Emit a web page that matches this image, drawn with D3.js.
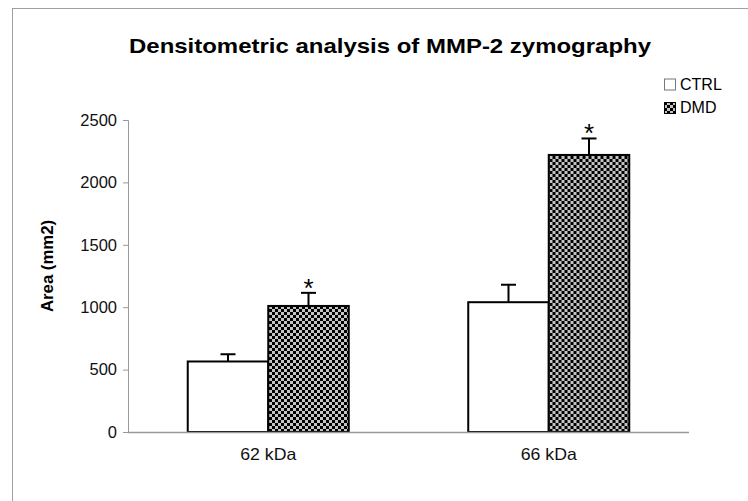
<!DOCTYPE html>
<html>
<head>
<meta charset="utf-8">
<script src="https://cdn.jsdelivr.net/npm/d3@7"></script>
<style>
  html, body { margin: 0; padding: 0; background: #fff; }
  svg { display: block; font-family: "Liberation Sans", Arial, sans-serif; }
</style>
</head>
<body>
<svg id="chart" width="748" height="501"></svg>
<script>
// Densitometric areas (mm2) with SD, per band size
const categories = ["62 kDa", "66 kDa"];
const seriesNames = ["CTRL", "DMD"];
const ctrlValues = [565, 1040];
const ctrlErrors = [58, 140];
const dmdValues = [1010, 2220];
const dmdErrors = [105, 132];
const significant = [true, true];   // asterisk above DMD bars
const yTicks = [0, 500, 1000, 1500, 2000, 2500];

const svg = d3.select("#chart");
const W = 748, H = 501;
const margin = { left: 128, right: 59, top: 120, bottom: 69 };
const plotW = W - margin.left - margin.right;
const plotH = H - margin.top - margin.bottom;

// checkerboard fill for the DMD series
const defs = svg.append("defs");
const pat = defs.append("pattern")
  .attr("id", "checker").attr("patternUnits", "userSpaceOnUse")
  .attr("width", 6).attr("height", 6);
pat.append("rect").attr("width", 6).attr("height", 6).attr("fill", "#c4c4c4");
pat.append("rect").attr("x", 0).attr("y", 0).attr("width", 3).attr("height", 3).attr("fill", "#000");
pat.append("rect").attr("x", 3).attr("y", 3).attr("width", 3).attr("height", 3).attr("fill", "#000");

// frame around the chart area
svg.append("rect").attr("x", 12.5).attr("y", 8.5).attr("width", 760).attr("height", 520)
  .attr("fill", "none").attr("stroke", "#a0a0a0").attr("stroke-width", 1);

svg.append("text").attr("x", 129).attr("y", 53)
  .attr("font-size", 20.5).attr("font-weight", "bold").attr("fill", "#000")
  .attr("textLength", 522).attr("lengthAdjust", "spacingAndGlyphs")
  .text("Densitometric analysis of MMP-2 zymography");

const g = svg.append("g").attr("transform", `translate(${margin.left},${margin.top})`);

const x0 = d3.scaleBand().domain(categories).range([0, plotW]).paddingInner(0).paddingOuter(0);
const x1 = d3.scaleBand().domain(seriesNames).range([0, x0.bandwidth()]).paddingInner(0).paddingOuter(0.742);
const y = d3.scaleLinear().domain([0, 2500]).range([plotH, 0]);

// axes
const yAxis = d3.axisLeft(y).tickValues(yTicks).tickSize(5).tickPadding(6).tickFormat(d3.format("d"));
const ya = g.append("g").call(yAxis);
ya.select(".domain").attr("stroke", "#999").attr("d", `M-5,0.5H0.5V${plotH}`);
ya.selectAll(".tick line").attr("stroke", "#999");
ya.selectAll(".tick text").attr("font-size", 16.5).attr("fill", "#111")
  .attr("font-family", "Liberation Sans, Arial, sans-serif");

const rows = categories.map((c, i) => ({
  cat: c,
  items: [
    { s: "CTRL", v: ctrlValues[i], e: ctrlErrors[i], star: false },
    { s: "DMD", v: dmdValues[i], e: dmdErrors[i], star: significant[i] }
  ]
}));

const groups = g.selectAll(".grp").data(rows).enter().append("g")
  .attr("transform", d => `translate(${x0(d.cat)},0)`);

const items = groups.selectAll(".bar").data(d => d.items).enter().append("g");

// error bars (upper whisker only)
items.append("line")
  .attr("x1", d => x1(d.s) + x1.bandwidth() / 2).attr("x2", d => x1(d.s) + x1.bandwidth() / 2)
  .attr("y1", d => y(d.v)).attr("y2", d => y(d.v + d.e))
  .attr("stroke", "#000").attr("stroke-width", 2);
items.append("line")
  .attr("x1", d => x1(d.s) + x1.bandwidth() / 2 - 7.5).attr("x2", d => x1(d.s) + x1.bandwidth() / 2 + 7.5)
  .attr("y1", d => y(d.v + d.e)).attr("y2", d => y(d.v + d.e))
  .attr("stroke", "#000").attr("stroke-width", 2);

items.append("rect")
  .attr("x", d => x1(d.s)).attr("width", x1.bandwidth())
  .attr("y", d => y(d.v)).attr("height", d => plotH - y(d.v))
  .attr("fill", d => d.s === "CTRL" ? "#fff" : "url(#checker)")
  .attr("stroke", "#000").attr("stroke-width", 2);

items.filter(d => d.star).append("text")
  .attr("x", d => x1(d.s) + x1.bandwidth() / 2)
  .attr("y", d => y(d.v + d.e) + 4)
  .attr("text-anchor", "middle").attr("font-size", 26).attr("fill", "#000")
  .text("*");

// x axis baseline and labels
g.append("line").attr("x1", 0).attr("x2", plotW).attr("y1", plotH + 0.5).attr("y2", plotH + 0.5)
  .attr("stroke", "#999").attr("stroke-width", 1.5);
g.selectAll(".xl").data(categories).enter().append("text")
  .attr("x", d => x0(d) + x0.bandwidth() / 2).attr("y", plotH + 28)
  .attr("text-anchor", "middle").attr("font-size", 16.5).attr("fill", "#111")
  .attr("textLength", 56).attr("lengthAdjust", "spacingAndGlyphs")
  .text(d => d);

// y axis title
svg.append("text").attr("transform", `translate(53,266) rotate(-90)`)
  .attr("text-anchor", "middle").attr("font-size", 16).attr("font-weight", "bold").attr("fill", "#000")
  .attr("textLength", 92).attr("lengthAdjust", "spacingAndGlyphs")
  .text("Area (mm2)");

// legend
const leg = svg.append("g").attr("transform", "translate(664,78)");
seriesNames.forEach((s, i) => {
  leg.append("rect").attr("x", 0.5).attr("y", i * 23.5 + 1).attr("width", 11).attr("height", 11)
    .attr("fill", s === "CTRL" ? "#fff" : "url(#checker)")
    .attr("stroke", s === "CTRL" ? "#777" : "#000").attr("stroke-width", 1);
  leg.append("text").attr("x", 16).attr("y", i * 23.5 + 11.5).attr("font-size", 16).attr("fill", "#000").text(s);
});
</script>
</body>
</html>
